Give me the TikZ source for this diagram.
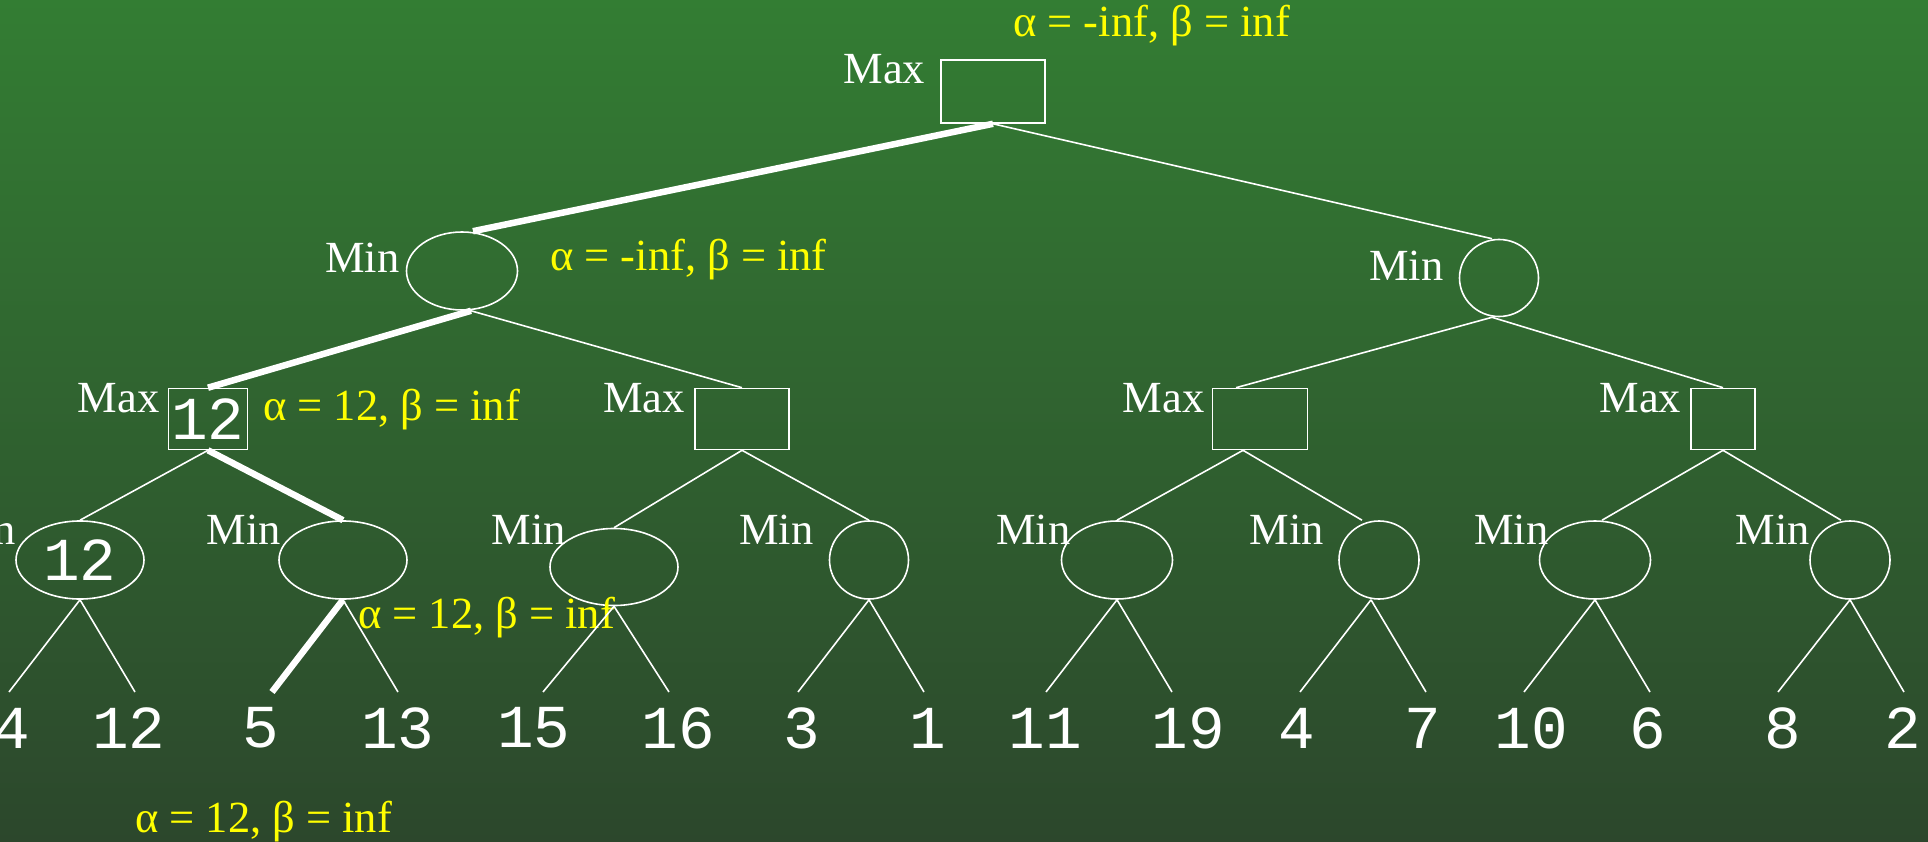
\documentclass[tikz,border=0pt]{standalone}
\usepackage{fontspec}
\setmainfont{Liberation Serif}
\newfontfamily\leaffont{Liberation Mono}
\usetikzlibrary{positioning, shapes.geometric}
\definecolor{boardTop}{HTML}{337D33}
\definecolor{boardBottom}{HTML}{2C472C}
\definecolor{noteYellow}{HTML}{FFFF00}

\begin{document}
\begin{tikzpicture}[
    x=1pt, y=-1pt,
    maxbox/.style={draw=white, line width=1.6pt, rectangle, minimum height=61pt,
                   inner sep=0pt, text=white, font=\leaffont\fontsize{61}{61}\selectfont},
    minnode/.style={draw=white, line width=1.6pt, ellipse, minimum height=78pt,
                    inner sep=0pt, text=white, font=\leaffont\fontsize{61}{61}\selectfont},
    tag/.style={text=white, inner sep=0pt, font=\fontsize{44.5}{50}\selectfont},
    note/.style={text=noteYellow, inner sep=0pt, anchor=base west,
                 font=\fontsize{44.5}{50}\selectfont},
    leaf/.style={text=white, inner sep=0pt, font=\leaffont\fontsize{61}{61}\selectfont},
    link/.style={draw=white, line width=1.6pt},
    best/.style={link, line width=6.5pt},
  ]
    \shade[top color=boardTop, bottom color=boardBottom] (0,0) rectangle (1928,842);
    \useasboundingbox (0,0) rectangle (1928,842);

    % game tree
    \node[maxbox, minimum width=104pt, minimum height=63pt] (root) at (993,91.5) {};

    \node[minnode, minimum width=111pt] (m1) at (462,271) {};
    \node[minnode, minimum width=79pt, minimum height=77pt] (m2) at (1499,278) {};

    \node[maxbox, minimum width=79pt] (x1) at (208,419) {12};
    \node[maxbox, minimum width=94pt] (x2) at (742,419) {};
    \node[maxbox, minimum width=95pt] (x3) at (1260,419) {};
    \node[maxbox, minimum width=64pt] (x4) at (1723,419) {};

    \node[minnode, minimum width=128pt] (n1) at (80,560) {12};
    \node[minnode, minimum width=128pt] (n2) at (343,560) {};
    \node[minnode, minimum width=128pt, minimum height=77pt] (n3) at (614,567) {};
    \node[minnode, minimum width=79pt] (n4) at (869,560) {};
    \node[minnode, minimum width=111pt] (n5) at (1117,560) {};
    \node[minnode, minimum width=80pt] (n6) at (1379,560) {};
    \node[minnode, minimum width=111pt] (n7) at (1595,560) {};
    \node[minnode, minimum width=80pt] (n8) at (1850,560) {};

    % Max / Min tags
    \node[tag, left=15pt of root.west, yshift=22pt] (troot) {Max};
    \node[tag, left=6pt of m1.west, yshift=13pt]    (tm1) {Min};
    \node[tag, left=15pt of m2.west, yshift=12pt]   (tm2) {Min};
    \node[tag, left=8pt of x1.west, yshift=21pt]    (tx1) {Max};
    \node[tag, left=9pt of x2.west, yshift=21pt]    (tx2) {Max};
    \node[tag, left=7pt of x3.west, yshift=21pt]    (tx3) {Max};
    \node[tag, left=9pt of x4.west, yshift=21pt]    (tx4) {Max};
    \node[tag, left=-1pt of n1.west, yshift=30pt]   (tn1) {Min};
    \node[tag, left=-3pt of n2.west, yshift=30pt]   (tn2) {Min};
    \node[tag, left=-17pt of n3.west, yshift=37pt]  (tn3) {Min};
    \node[tag, left=15pt of n4.west, yshift=30pt]   (tn4) {Min};
    \node[tag, left=-10pt of n5.west, yshift=30pt]  (tn5) {Min};
    \node[tag, left=14pt of n6.west, yshift=30pt]   (tn6) {Min};
    \node[tag, left=-10pt of n7.west, yshift=30pt]  (tn7) {Min};
    \node[tag, left=-1pt of n8.west, yshift=30pt]   (tn8) {Min};

    % alpha / beta notes
    \node[note] (a0) at (1013,37)  {α = -inf, β = inf};
    \node[note] (a1) at (550,271)  {α = -inf, β = inf};
    \node[note] (a2) at (263,420)  {α = 12, β = inf};
    \node[note] (a3) at (358,628)  {α = 12, β = inf};
    \node[note] (a4) at (135,832)  {α = 12, β = inf};

    % leaf ends and values
    \coordinate (t1)  at (9,692);
    \coordinate (t2)  at (135,692);
    \coordinate (t3)  at (272,692);
    \coordinate (t4)  at (398,692);
    \coordinate (t5)  at (543,692);
    \coordinate (t6)  at (669,692);
    \coordinate (t7)  at (798,692);
    \coordinate (t8)  at (924,692);
    \coordinate (t9)  at (1046,692);
    \coordinate (t10) at (1172,692);
    \coordinate (t11) at (1300,692);
    \coordinate (t12) at (1426,692);
    \coordinate (t13) at (1524,692);
    \coordinate (t14) at (1650,692);
    \coordinate (t15) at (1778,692);
    \coordinate (t16) at (1904,692);

    \node[leaf] (v1)  at (12,728)   {4};
    \node[leaf] (v2)  at (129,728)  {12};
    \node[leaf] (v3)  at (261,728)  {5};
    \node[leaf] (v4)  at (398,728)  {13};
    \node[leaf] (v5)  at (534,728)  {15};
    \node[leaf] (v6)  at (678,728)  {16};
    \node[leaf] (v7)  at (802,728)  {3};
    \node[leaf] (v8)  at (928,728)  {1};
    \node[leaf] (v9)  at (1045,728) {11};
    \node[leaf] (v10) at (1188,728) {19};
    \node[leaf] (v11) at (1297,728) {4};
    \node[leaf] (v12) at (1423,728) {7};
    \node[leaf] (v13) at (1531,728) {10};
    \node[leaf] (v14) at (1648,728) {6};
    \node[leaf] (v15) at (1783,728) {8};
    \node[leaf] (v16) at (1903,728) {2};

    % connectors
    \draw[best] (root.south) -- ([xshift=11pt]m1.north);
    \draw[link] (root.south) -- ([xshift=-7pt]m2.north);

    \draw[best] ([xshift=9pt]m1.south) -- (x1.north);
    \draw[link] ([xshift=9pt]m1.south) -- (x2.north);
    \draw[link] ([xshift=-7pt]m2.south) -- ([xshift=-24pt]x3.north);
    \draw[link] ([xshift=-7pt]m2.south) -- (x4.north);

    \draw[link] (x1.south) -- (n1.north);
    \draw[best] (x1.south) -- (n2.north);
    \draw[link] (x2.south) -- (n3.north);
    \draw[link] (x2.south) -- (n4.north);
    \draw[link] ([xshift=-17pt]x3.south) -- (n5.north);
    \draw[link] ([xshift=-17pt]x3.south) -- ([xshift=-17pt]n6.north);
    \draw[link] (x4.south) -- ([xshift=7pt]n7.north);
    \draw[link] (x4.south) -- ([xshift=-9pt]n8.north);

    \draw[link] (n1.south) -- (t1);
    \draw[link] (n1.south) -- (t2);
    \draw[best] (n2.south) -- (t3);
    \draw[link] (n2.south) -- (t4);
    \draw[link] (n3.south) -- (t5);
    \draw[link] (n3.south) -- (t6);
    \draw[link] (n4.south) -- (t7);
    \draw[link] (n4.south) -- (t8);
    \draw[link] (n5.south) -- (t9);
    \draw[link] (n5.south) -- (t10);
    \draw[link] ([xshift=-8pt]n6.south) -- (t11);
    \draw[link] ([xshift=-8pt]n6.south) -- (t12);
    \draw[link] (n7.south) -- (t13);
    \draw[link] (n7.south) -- (t14);
    \draw[link] (n8.south) -- (t15);
    \draw[link] (n8.south) -- (t16);
  \end{tikzpicture}
\end{document}
